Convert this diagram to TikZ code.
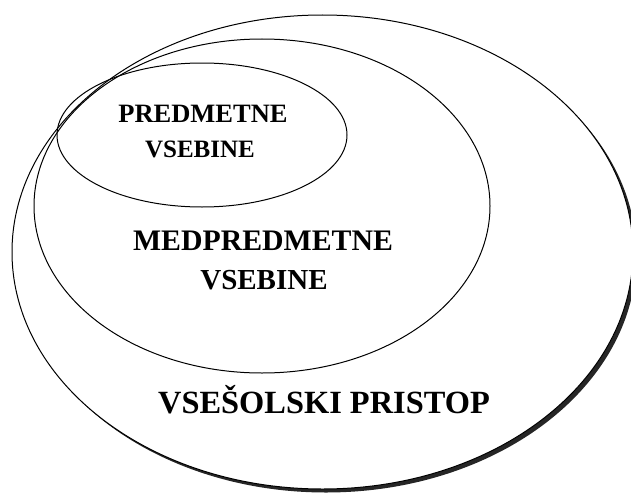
\documentclass[tikz,border=0pt]{standalone}
\usepackage{fontspec}
\setmainfont{Liberation Serif}
\begin{document}
\begin{tikzpicture}[x=1pt,y=-1pt,
  ring/.style={draw=black,line width=1pt},
  lbl/.style={inner sep=0pt,anchor=base,font=\bfseries}]
\useasboundingbox (0,0) rectangle (631,495);
% shadow of the outer ellipse
\fill[black!85] (326,255.5) ellipse [x radius=310.5, y radius=237];
% outer ellipse
\draw[ring,fill=white] (322.5,252) ellipse [x radius=310.5, y radius=237];
% middle ellipse
\draw[ring] (262,206) ellipse [x radius=228, y radius=167];
% inner ellipse
\draw[ring] (202,135) ellipse [x radius=145, y radius=72];
% labels
\node[lbl,font=\bfseries\fontsize{26.5}{30}\selectfont] (p1) at (203,122) {PREDMETNE};
\node[lbl,font=\bfseries\fontsize{25}{30}\selectfont] (p2) at (200,157) {VSEBINE};
\node[lbl,font=\bfseries\fontsize{29.8}{34}\selectfont] (m1) at (263,250) {MEDPREDMETNE};
\node[lbl,font=\bfseries\fontsize{29}{34}\selectfont] (m2) at (264,289) {VSEBINE};
\node[lbl,font=\bfseries\fontsize{32.4}{36}\selectfont] (v1) at (324,413) {VSEŠOLSKI PRISTOP};
\end{tikzpicture}
\end{document}
